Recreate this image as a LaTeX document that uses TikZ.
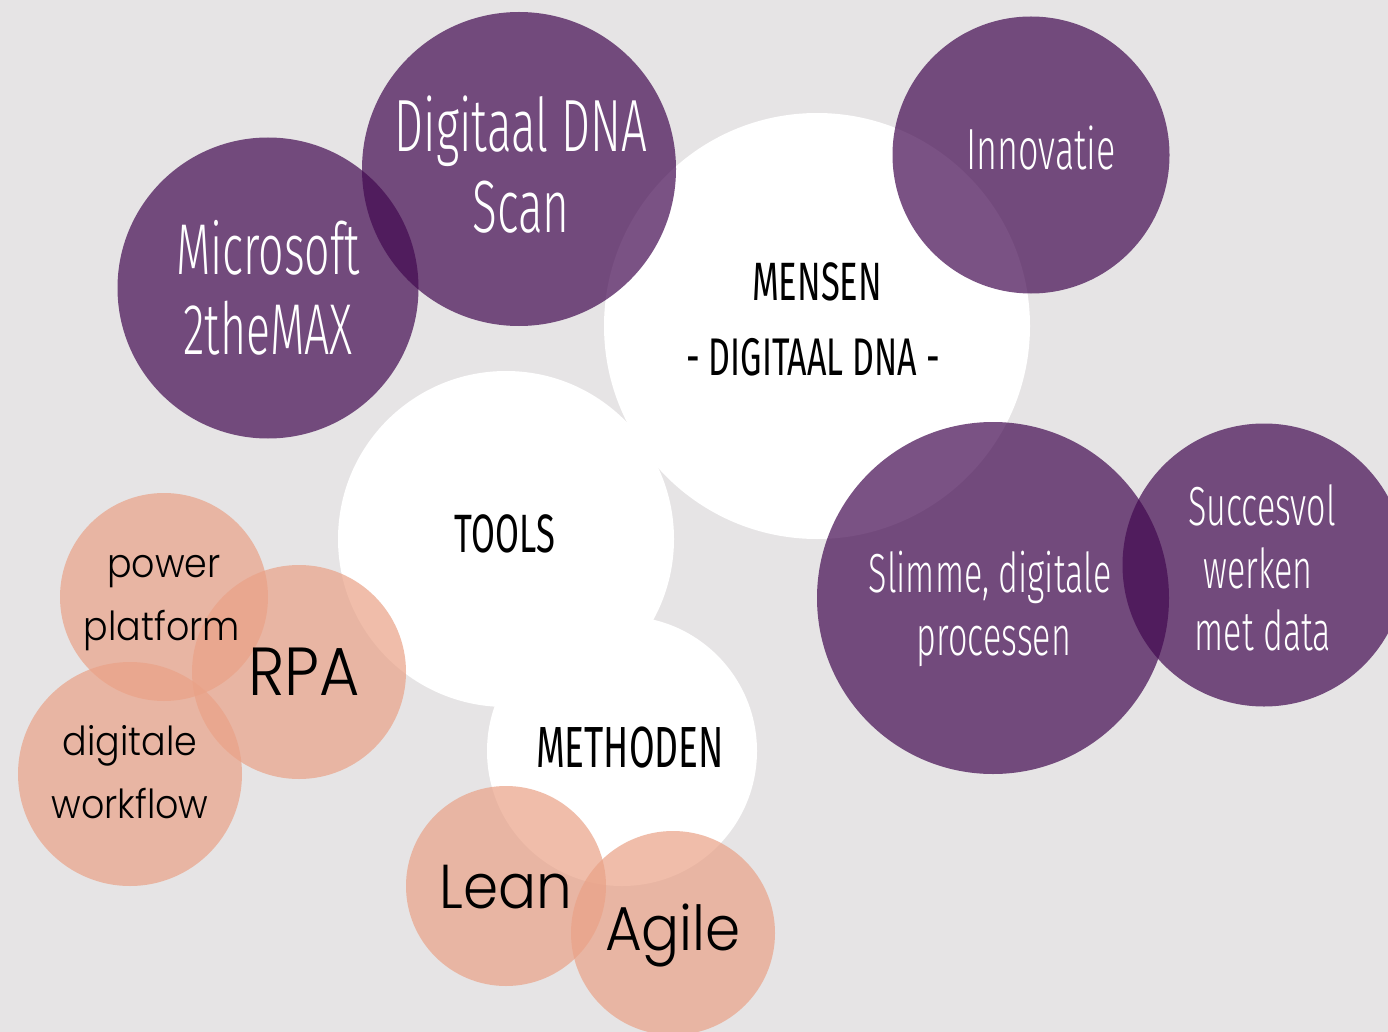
\documentclass[tikz,border=0pt]{standalone}
\usepackage{fontspec}
\newfontfamily\condfont[FakeStretch=0.62]{Fira Sans Light}
\newfontfamily\condcapfont[FakeStretch=0.64]{Fira Sans}
\newfontfamily\roundfont[FakeStretch=0.91]{Poppins Light}
\definecolor{bggray}{HTML}{E6E4E5}
\definecolor{plumbase}{HTML}{420950}
\definecolor{peachbase}{HTML}{EAA287}
\begin{document}
\begin{tikzpicture}[x=1pt,y=-1pt,
  bubble/.style={circle, inner sep=0pt, draw=none, minimum size=#1},
  whitebub/.style={bubble=#1, fill=white},
  plumbub/.style={bubble=#1, fill=plumbase, fill opacity=0.7},
  peachbub/.style={bubble=#1, fill=peachbase, fill opacity=0.7},
  condtxt/.style={anchor=base, inner sep=0pt, font=\condfont\fontsize{#1}{#1}\selectfont},
  roundtxt/.style={anchor=base, inner sep=0pt, text=black, font=\roundfont\fontsize{#1}{#1}\selectfont},
  ontext/.style={condtxt=#1, text=white},
  blacktext/.style={anchor=base, inner sep=0pt, text=black, font=\condcapfont\fontsize{#1}{#1}\selectfont}]
\fill[bggray] (0,0) rectangle (1388,1032);
\useasboundingbox (0,0) rectangle (1388,1032);
\clip (0,0) rectangle (1388,1032);
% white circles
\node[whitebub=426pt] (mensen) at (817,326) {};
\node[whitebub=336pt] (tools) at (506,539) {};
\node[whitebub=270pt] (methoden) at (622,751) {};
% purple circles
\node[plumbub=301pt] (microsoft) at (268,288) {};
\node[plumbub=314pt] (scan) at (519,169) {};
\node[plumbub=277pt] (innovatie) at (1031,155) {};
\node[plumbub=352pt] (slimme) at (993,598) {};
\node[plumbub=283pt] (succes) at (1264,565) {};
% peach circles
\node[peachbub=208pt] (power) at (164,597) {};
\node[peachbub=214pt] (rpa) at (299,672) {};
\node[peachbub=224pt] (workflow) at (130,774) {};
\node[peachbub=200pt] (lean) at (506,886) {};
\node[peachbub=204pt] (agile) at (673,933) {};
% texts
\node[ontext=74] (t-scan1) at (521,152) {Digitaal DNA};
\node[ontext=74] (t-scan2) at (521,233) {Scan};
\node[ontext=72] (t-ms1) at (268,274) {Microsoft};
\node[ontext=72] (t-ms2) at (268,354) {2theMAX};
\node[ontext=58] (t-inno) at (1041,170) {Innovatie};
\node[blacktext=54] (t-mensen1) at (817,300) {MENSEN};
\node[blacktext=53] (t-mensen2) at (813,375) {- DIGITAAL DNA -};
\node[blacktext=54] (t-tools) at (505,552) {TOOLS};
\node[blacktext=58] (t-meth) at (630,767) {METHODEN};
\node[ontext=55] (t-slim1) at (990,592) {Slimme, digitale};
\node[ontext=55] (t-slim2) at (994,655) {processen};
\node[ontext=55] (t-succ1) at (1262,525) {Succesvol};
\node[ontext=55] (t-succ2) at (1258,588) {werken};
\node[ontext=55] (t-succ3) at (1263,650) {met data};
\node[roundtxt=40] (t-pow1) at (164,577) {power};
\node[roundtxt=40] (t-pow2) at (162,640) {platform};
\node[roundtxt=68] (t-rpa) at (304,695) {RPA};
\node[roundtxt=40] (t-wf1) at (130,755) {digitale};
\node[roundtxt=40] (t-wf2) at (130,818) {workflow};
\node[roundtxt=62] (t-lean) at (506,908) {Lean};
\node[roundtxt=62] (t-agile) at (673,950) {Agile};
\end{tikzpicture}
\end{document}
